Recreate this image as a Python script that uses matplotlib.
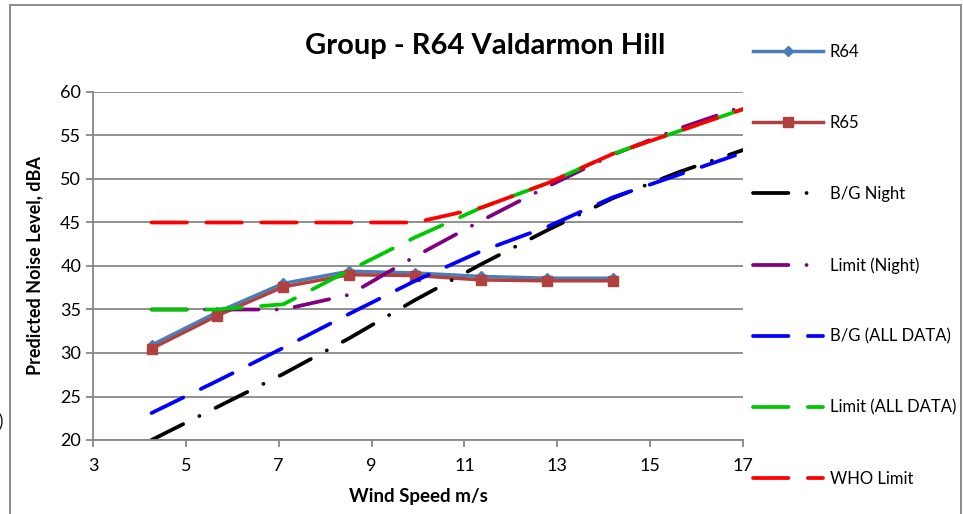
import numpy as np
import matplotlib
matplotlib.use('Agg')
import matplotlib.pyplot as plt
from matplotlib.patches import Rectangle

plt.rcParams['font.family'] = ['Lato', 'DejaVu Sans']
plt.rcParams['lines.scale_dashes'] = False

# wind speed (m/s) at the predicted / background points
wind = [4.26, 5.68, 7.10, 8.52, 9.94, 11.36, 12.78, 14.20]
wind_bg = [4.26, 5.68, 7.10, 8.52, 9.94, 11.36, 12.78, 14.20, 15.62, 17.04]

r64 = [30.9, 34.7, 38.0, 39.4, 39.2, 38.8, 38.6, 38.6]
r65 = [30.5, 34.3, 37.6, 39.0, 38.9, 38.4, 38.3, 38.3]

bg_night = [20.0, 23.8, 27.6, 31.7, 36.1, 40.2, 44.1, 47.8, 50.8, 53.4]
limit_night = [35.0, 35.0, 35.0, 36.7, 41.1, 45.2, 49.1, 52.8, 55.8, 58.4]
bg_all = [23.1, 26.8, 30.6, 34.5, 38.3, 41.7, 44.5, 47.9, 50.5, 53.1]
limit_all = [35.0, 35.0, 35.6, 39.5, 43.3, 46.7, 49.5, 52.9, 55.5, 58.1]
who_limit = [45.0, 45.0, 45.0, 45.0, 45.0, 46.7, 49.5, 52.9, 55.5, 58.1]

W, H = 963, 514
fig = plt.figure(figsize=(W/100, H/100), dpi=100)
ax = fig.add_axes([93/W, 1-440/H, 650/W, 348/H])

long_dash = (25.5, 14)
dash_dot = (25.5, 13, 0.1, 13)
lw = 2.7

ax.plot(wind, r64, color='#4A7EBB', lw=2.5, marker='D', ms=5.5, label='R64')
ax.plot(wind, r65, color='#B0413E', lw=2.5, marker='s', ms=7.5, label='R65')
ax.plot(wind_bg, bg_night, color='black', lw=lw, dashes=dash_dot,
        dash_capstyle='round', label='B/G Night')
ax.plot(wind_bg, limit_night, color='#800080', lw=lw, dashes=dash_dot,
        dash_capstyle='round', label='Limit (Night)')
ax.plot(wind_bg, bg_all, color='#0000FF', lw=lw, dashes=long_dash,
        dash_capstyle='round', label='B/G (ALL DATA)')
ax.plot(wind_bg, limit_all, color='#00C800', lw=lw, dashes=long_dash,
        dash_capstyle='round', label='Limit (ALL DATA)')
ax.plot(wind_bg, who_limit, color='#FF0000', lw=lw, dashes=long_dash,
        dash_capstyle='round', label='WHO Limit')

ax.set_xlim(3, 17)
ax.set_ylim(20, 60)
ax.set_xticks(np.arange(3, 18, 2))
ax.set_yticks(np.arange(20, 61, 5))
ax.grid(axis='y', color='#878787', lw=1.3)
ax.set_axisbelow(True)
for s in ['top', 'right']:
    ax.spines[s].set_visible(False)
for s in ['left', 'bottom']:
    ax.spines[s].set_color('#878787')
    ax.spines[s].set_linewidth(1.3)
ax.tick_params(colors='#878787', labelcolor='black', labelsize=13,
               length=5, width=1.3, direction='out')
ax.tick_params(axis='x', pad=8)

ax.set_xlabel('Wind Speed m/s', fontsize=13.5, fontweight='bold', labelpad=10)
ax.set_ylabel('Predicted Noise Level, dBA', fontsize=13, fontweight='bold',
              labelpad=12)
fig.text(485/W, 1-46/H, 'Group - R64 Valdarmon Hill', fontsize=21,
         fontweight='bold', ha='center', va='center')

ax.legend(loc='upper left', bbox_to_anchor=(753/W, 1-44/H),
          bbox_transform=fig.transFigure, frameon=False, fontsize=12,
          handlelength=4.2, handletextpad=0.4, labelspacing=3.3,
          borderpad=0, borderaxespad=0, numpoints=1)

fig.patches.append(Rectangle((10/W, -0.1), 950.5/W, 1.1 - 5/H,
                             transform=fig.transFigure, fill=False,
                             edgecolor='#8c8c8c', lw=1.4))
fig.text(3/W, 1-422/H, ')', fontsize=12, ha='right', va='center')

fig.savefig('out.png', dpi=100)
